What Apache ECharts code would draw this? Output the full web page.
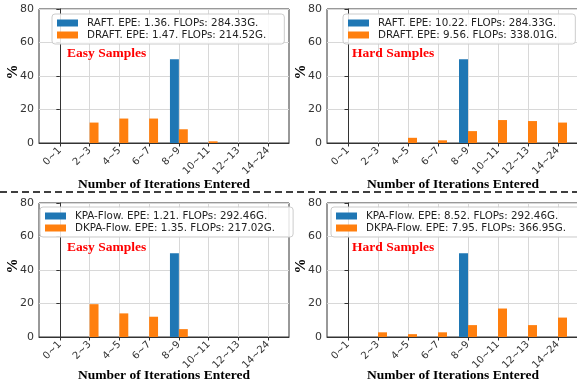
<!DOCTYPE html>
<html>
<head>
<meta charset="utf-8">
<script src="https://cdn.jsdelivr.net/npm/echarts@6/dist/echarts.min.js"></script>
<style>
    html, body { margin: 0; padding: 0; background: #fff; }
    #main { width: 577px; height: 383px; }
</style>
</head>
<body>
<div id="main"></div>
<script>
// bins of iterations
var categories = ['0~1', '2~3', '4~5', '6~7', '8~9', '10~11', '12~13', '14~24'];
var yTicks = [0, 20, 40, 60, 80];

// top row: RAFT / DRAFT
var raftEasy = [0, 0, 0, 0, 50, 0, 0, 0];
var draftEasy = [0, 12.2, 14.6, 14.6, 8.2, 1.0, 0, 0];
var raftHard = [0, 0, 0, 0, 50, 0, 0, 0];
var draftHard = [0, 0, 3.1, 1.6, 7.1, 13.7, 13.1, 12.2];

// bottom row: KPA-Flow / DKPA-Flow
var kpaEasy = [0, 0, 0, 0, 50, 0, 0, 0];
var dkpaEasy = [0, 19.6, 14.1, 12.1, 4.7, 0, 0, 0];
var kpaHard = [0, 0, 0, 0, 50, 0, 0, 0];
var dkpaHard = [0, 2.8, 1.7, 2.8, 7.1, 17.0, 7.1, 11.6];

var names = [
    ['RAFT. EPE: 1.36. FLOPs: 284.33G.', 'DRAFT. EPE: 1.47. FLOPs: 214.52G.'],
    ['RAFT. EPE: 10.22. FLOPs: 284.33G.', 'DRAFT. EPE: 9.56. FLOPs: 338.01G.'],
    ['KPA-Flow. EPE: 1.21. FLOPs: 292.46G.', 'DKPA-Flow. EPE: 1.35. FLOPs: 217.02G.'],
    ['KPA-Flow. EPE: 8.52. FLOPs: 292.46G.', 'DKPA-Flow. EPE: 7.95. FLOPs: 366.95G.']
];
var values = [[raftEasy, draftEasy], [raftHard, draftHard], [kpaEasy, dkpaEasy], [kpaHard, dkpaHard]];
var tags = ['Easy Samples', 'Hard Samples', 'Easy Samples', 'Hard Samples'];

var chart = echarts.init(document.getElementById('main'));

var grids = [
    {left: 39, top: 9, width: 250, height: 134},
    {left: 327, top: 9, width: 252, height: 134},
    {left: 39, top: 203, width: 250, height: 134},
    {left: 327, top: 203, width: 252, height: 134}
];
var legendPos = [
    {left: 52, top: 14},
    {left: 343, top: 14},
    {left: 40, top: 207},
    {left: 331, top: 207}
];
var tagPos = [
    {left: 67, top: 47},
    {left: 352, top: 47},
    {left: 67, top: 241},
    {left: 352, top: 241}
];
var colors = ['#1f77b4', '#ff7f0e'];
var serif = 'Liberation Serif';
var sans = 'DejaVu Sans';

var xAxes = [], yAxes = [], series = [], legends = [], titles = [];
var catIdx = categories.map(function (c, i) { return i; });

grids.forEach(function (g, k) {
    g.show = true;
    g.borderColor = '#333';
    g.borderWidth = 1;
    g.containLabel = false;
    g.outerBoundsMode = 'none';

    xAxes.push({
        type: 'value',
        gridIndex: k,
        min: -0.7,
        max: 7.7,
        name: 'Number of Iterations Entered',
        nameLocation: 'middle',
        nameGap: k < 2 ? 34.5 : 32,
        nameMoveOverlap: false,
        nameTextStyle: {fontFamily: serif, fontWeight: 'bold', fontSize: 13.5, color: '#000'},
        axisLine: {show: true, onZero: false, lineStyle: {color: '#333', width: 1}},
        axisTick: {show: true, length: 3.5, customValues: catIdx, lineStyle: {color: '#333'}},
        axisLabel: {
            customValues: catIdx,
            rotate: 45,
            margin: 6,
            fontFamily: sans,
            fontSize: 10,
            color: '#333',
            formatter: function (v) { return categories[Math.round(v)]; }
        },
        splitLine: {show: true, lineStyle: {color: '#d8d8d8', width: 1}}
    });

    yAxes.push({
        type: 'value',
        gridIndex: k,
        min: yTicks[0],
        max: yTicks[yTicks.length - 1],
        interval: 20,
        name: '%',
        nameLocation: 'middle',
        nameRotate: 90,
        nameGap: 18,
        nameMoveOverlap: false,
        nameTextStyle: {fontFamily: serif, fontWeight: 'bold', fontSize: 15, color: '#000', padding: [0, 0, 0, 8]},
        axisLine: {show: true, lineStyle: {color: '#333', width: 1}},
        axisTick: {show: true, length: 3.5, lineStyle: {color: '#333'}},
        axisLabel: {fontFamily: sans, fontSize: 11, color: '#333', margin: 5},
        splitLine: {show: true, lineStyle: {color: '#d8d8d8', width: 1}}
    });

    for (var s = 0; s < 2; s++) {
        series.push({
            type: 'bar',
            name: names[k][s],
            xAxisIndex: k,
            yAxisIndex: k,
            barWidth: '30%',
            barGap: '0%',
            itemStyle: {color: colors[s]},
            data: values[k][s].map(function (v, i) { return [i, v]; })
        });
    }

    legends.push({
        data: names[k],
        orient: 'vertical',
        left: legendPos[k].left,
        top: legendPos[k].top,
        itemWidth: 21,
        itemHeight: 7,
        itemGap: 2,
        icon: 'rect',
        padding: [4, 18, 4, 5],
        backgroundColor: 'rgba(255,255,255,0.85)',
        borderColor: '#cccccc',
        borderWidth: 1,
        borderRadius: 3,
        selectedMode: false,
        textStyle: {fontFamily: sans, fontSize: 10.3, color: '#222', padding: [0, 0, 0, 4]}
    });

    titles.push({
        text: tags[k],
        left: tagPos[k].left,
        top: tagPos[k].top,
        padding: 0,
        textStyle: {fontFamily: serif, fontWeight: 'bold', fontSize: 13.5, color: '#ff0000'}
    });
});

chart.setOption({
    animation: false,
    title: titles,
    legend: legends,
    grid: grids,
    xAxis: xAxes,
    yAxis: yAxes,
    series: series,
    graphic: [{
        type: 'line',
        shape: {x1: 0, y1: 192, x2: 577, y2: 192},
        style: {stroke: '#000', lineWidth: 1.5, lineDash: [7, 4]}
    }]
});
</script>
</body>
</html>
